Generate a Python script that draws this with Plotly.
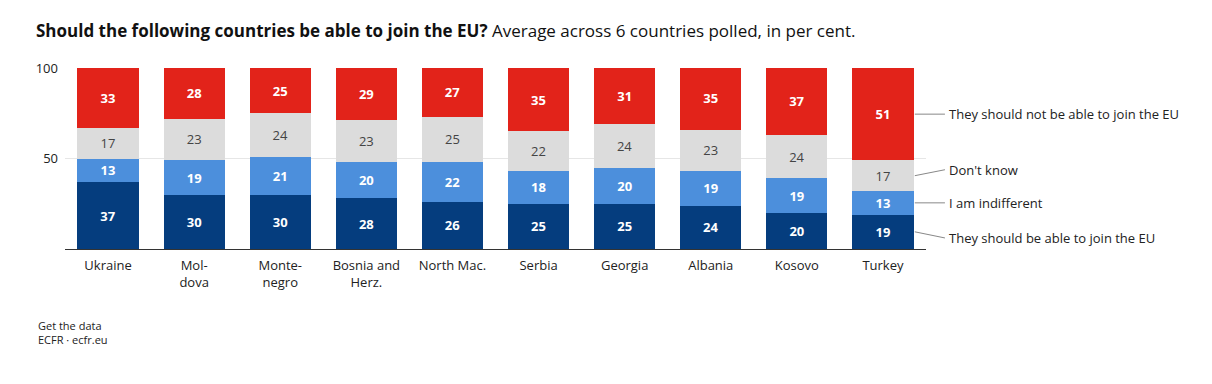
import plotly.graph_objects as go

countries = ["Ukraine", "Mol-<br>dova", "Monte-<br>negro", "Bosnia and<br>Herz.", "North Mac.",
             "Serbia", "Georgia", "Albania", "Kosovo", "Turkey"]
should_join = [37, 30, 30, 28, 26, 25, 25, 24, 20, 19]
indifferent = [13, 19, 21, 20, 22, 18, 20, 19, 19, 13]
dont_know = [17, 23, 24, 23, 25, 22, 24, 23, 24, 17]
should_not = [33, 28, 25, 29, 27, 35, 31, 35, 37, 51]

series_names = ["They should be able to join the EU", "I am indifferent", "Don't know",
                "They should not be able to join the EU"]
series_values = [should_join, indifferent, dont_know, should_not]
series_colors = ["#053d7e", "#4c8fdc", "#dcdcdc", "#e2231a"]
text_colors = ["white", "white", "#444444", "white"]
bold = [True, True, False, True]

FONT = "Open Sans"

fig = go.Figure()
for name, vals, col, tc, b in zip(series_names, series_values, series_colors, text_colors, bold):
    fig.add_trace(go.Bar(
        x=countries, y=vals, name=name, marker=dict(color=col, line=dict(width=0)),
        text=vals, texttemplate="<b>%{text}</b>" if b else "%{text}",
        textposition="inside", insidetextanchor="middle", textangle=0,
        textfont=dict(color=tc, size=13, family=FONT), constraintext="none",
        hoverinfo="skip", showlegend=False,
    ))

# legend labels with leader lines, positioned from the last bar's segments
last = [v[-1] for v in series_values]
label_shift = [-0.034, 0.0, 0.033, 0.0]
cum = 0
for name, v, sh in zip(series_names, last, label_shift):
    center = (cum + v / 2) / 100
    cum += v
    fig.add_shape(type="line", xref="paper", yref="paper", x0=0.987, x1=1.022,
                  y0=center, y1=center + sh, line=dict(color="#888888", width=1))
    fig.add_annotation(xref="paper", yref="paper", x=1.024, y=center + sh, text=name,
                       showarrow=False, xanchor="left", yanchor="middle",
                       font=dict(size=13, color="#222222", family=FONT))

fig.add_annotation(xref="paper", yref="paper", x=-0.034, y=-0.372,
                   text="Get the data<br>ECFR · ecfr.eu", showarrow=False, align="left",
                   xanchor="left", yanchor="top", font=dict(size=11, color="#222222", family=FONT))

fig.update_layout(
    barmode="stack", bargap=0.29,
    width=1212, height=384,
    margin=dict(l=65, r=286, t=68, b=135),
    paper_bgcolor="white", plot_bgcolor="white",
    font=dict(family=FONT, color="#222222"),
    title=dict(
        text="<b>Should the following countries be able to join the EU?</b> Average across 6 countries polled, in per cent.",
        x=0.0297, xref="container", xanchor="left", y=0.919, yref="container", yanchor="middle",
        font=dict(size=17, color="#111111", family=FONT)),
    xaxis=dict(showline=True, linecolor="#333333", linewidth=1, ticks="", showgrid=False,
               tickfont=dict(size=13, color="#222222", family=FONT), range=[-0.5, 9.5],
               ticklabelstandoff=4),
    yaxis=dict(range=[0, 100], tickvals=[50, 100], showgrid=True, gridcolor="#e6e6e6",
               zeroline=False, ticks="", tickfont=dict(size=13, color="#222222", family=FONT),
               ticklabelstandoff=6),
)

fig.write_html("out.html", config={"displayModeBar": False},
               post_script="document.body.style.margin='0';")
